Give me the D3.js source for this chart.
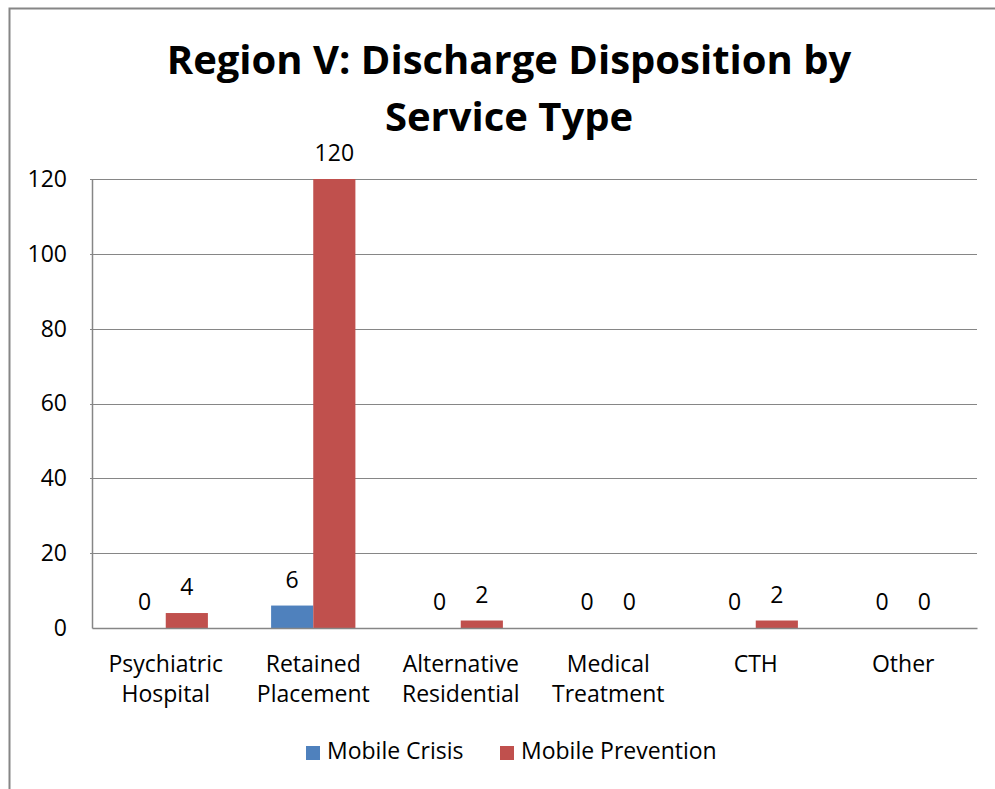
<!DOCTYPE html>
<html>
<head>
<meta charset="utf-8">
<script src="https://cdn.jsdelivr.net/npm/d3@7"></script>
<style>
  body { margin: 0; background: #fff; }
  text { font-family: "Open Sans", Lato, sans-serif; fill: #000; }
</style>
</head>
<body>
<div id="chart"></div>
<script>
var categories = [["Psychiatric", "Hospital"], ["Retained", "Placement"], ["Alternative", "Residential"], ["Medical", "Treatment"], ["CTH"], ["Other"]];
var seriesNames = ["Mobile Crisis", "Mobile Prevention"];
var mobileCrisis = [0, 6, 0, 0, 0, 0];
var mobilePrevention = [4, 120, 2, 0, 2, 0];
var yTicks = [0, 20, 40, 60, 80, 100, 120];
var colors = ["#4F81BD", "#C0504D"];

var W = 995, H = 789;
var margin = { left: 92, right: 18, top: 179, bottom: 161 };
var width = W - margin.left - margin.right;
var height = H - margin.top - margin.bottom;
var fs = "23px";

var svg = d3.select("#chart").append("svg")
    .attr("width", W)
    .attr("height", H);

// outer chart frame (runs past the picture on right/bottom)
svg.append("rect")
    .attr("x", 9.5).attr("y", 8.5)
    .attr("width", 1000).attr("height", 1000)
    .attr("fill", "none")
    .attr("stroke", "#868686")
    .attr("stroke-width", 2);

// title
var title = svg.append("text")
    .attr("text-anchor", "middle")
    .style("font-size", "40px")
    .style("font-weight", "bold");
title.append("tspan").attr("x", 509).attr("y", 74).text("Region V: Discharge Disposition by");
title.append("tspan").attr("x", 509).attr("y", 131).text("Service Type");

var g = svg.append("g")
    .attr("transform", "translate(" + margin.left + "," + margin.top + ")");

var x0 = d3.scaleBand()
    .domain(d3.range(categories.length))
    .range([0, width]);

// gap width 150% -> each bar is band / 3.5
var barW = x0.bandwidth() / 3.5;
var x1 = d3.scaleBand()
    .domain([0, 1])
    .range([x0.bandwidth() / 2 - barW, x0.bandwidth() / 2 + barW]);

var y = d3.scaleLinear()
    .domain([0, 120])
    .range([height, 0]);

// gridlines
g.selectAll(".grid")
    .data(yTicks.slice(1))
    .enter().append("line")
    .attr("class", "grid")
    .attr("x1", -2).attr("x2", width)
    .attr("y1", function (d) { return Math.round(y(d)) + 0.5; })
    .attr("y2", function (d) { return Math.round(y(d)) + 0.5; })
    .attr("stroke", "#868686")
    .attr("stroke-width", 1.2);

// y axis
var yAxis = d3.axisLeft(y).tickValues(yTicks).tickSize(0).tickPadding(25);
var ya = g.append("g").call(yAxis);
ya.select(".domain").attr("stroke", "#868686").attr("stroke-width", 1.5);
ya.selectAll("text").style("font-size", fs).style("font-family", "'Open Sans', sans-serif").attr("fill", "#000");

// bars + data labels
var series = [mobileCrisis, mobilePrevention];
series.forEach(function (vals, s) {
    g.selectAll(".bar" + s)
        .data(vals)
        .enter().append("rect")
        .attr("x", function (d, i) { return x0(i) + x1(s); })
        .attr("y", function (d) { return y(d); })
        .attr("width", x1.bandwidth())
        .attr("height", function (d) { return height - y(d); })
        .attr("fill", colors[s]);

    g.selectAll(".lab" + s)
        .data(vals)
        .enter().append("text")
        .attr("x", function (d, i) { return x0(i) + x1(s) + x1.bandwidth() / 2; })
        .attr("y", function (d) { return y(d) - 18; })
        .attr("text-anchor", "middle")
        .style("font-size", fs)
        .text(function (d) { return d; });
});

// x axis line
var xa = g.append("g")
    .attr("transform", "translate(0," + height + ")")
    .call(d3.axisBottom(x0).tickSize(0).tickFormat(""));
xa.select(".domain").attr("stroke", "#868686").attr("stroke-width", 1.5);

// category labels
var cl = g.selectAll(".cat")
    .data(categories)
    .enter().append("text")
    .attr("class", "cat")
    .attr("text-anchor", "middle")
    .style("font-size", fs);
cl.each(function (lines, i) {
    var t = d3.select(this);
    lines.forEach(function (ln, k) {
        t.append("tspan")
            .attr("x", x0(i) + x0.bandwidth() / 2)
            .attr("y", height + 44 + k * 30)
            .text(ln);
    });
});

// legend
var legendX = [306, 500];
var lg = svg.selectAll(".leg")
    .data(seriesNames)
    .enter().append("g")
    .attr("transform", function (d, i) { return "translate(" + legendX[i] + ",746)"; });
lg.append("rect").attr("width", 14).attr("height", 14)
    .attr("fill", function (d, i) { return colors[i]; });
lg.append("text").attr("x", 21).attr("y", 13)
    .style("font-size", fs)
    .text(function (d) { return d; });
</script>
</body>
</html>
